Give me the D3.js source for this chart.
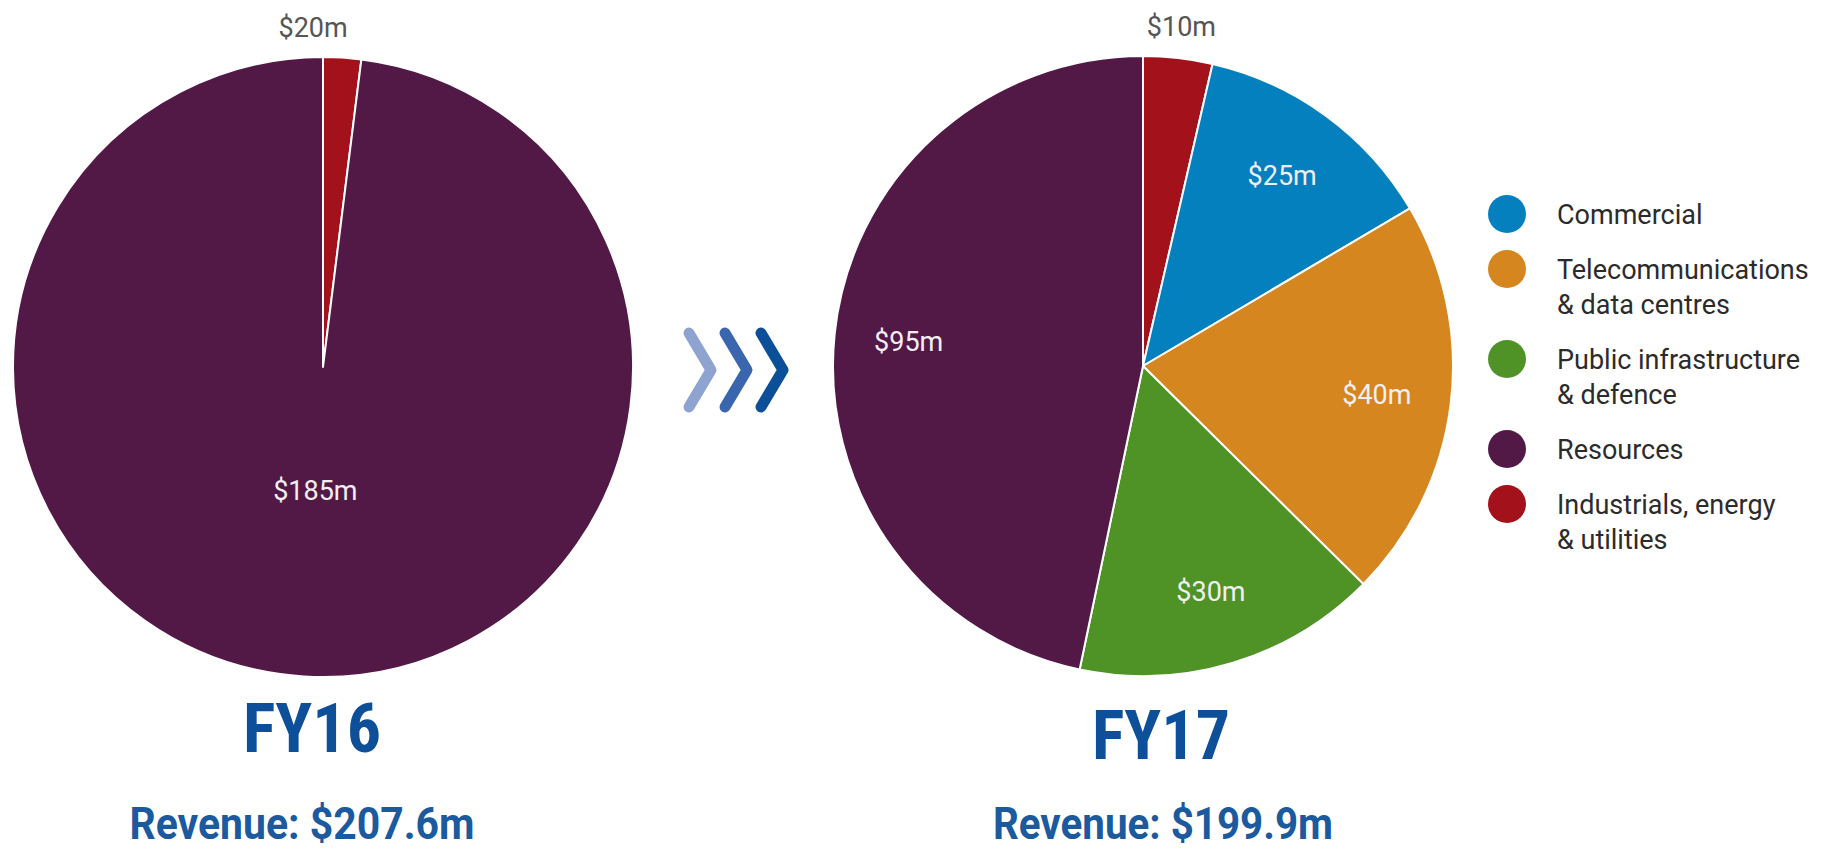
<!DOCTYPE html>
<html>
<head>
<meta charset="utf-8">
<script src="https://cdn.jsdelivr.net/npm/d3@7"></script>
<style>
  body { margin: 0; background: #fff; }
  svg { display: block; }
</style>
</head>
<body>
<div id="chart"></div>
<script>
var w = 1827;
var h = 850;

// Segments and colours
var segments = ["Commercial", "Telecommunications & data centres", "Public infrastructure & defence", "Resources", "Industrials, energy & utilities"];
var segmentColors = ["#0580bf", "#d6861e", "#4f9226", "#521946", "#a3121a"];

// Slices clockwise from 12 o'clock. Values are the slice sizes as drawn ($m),
// labels are the printed figures.
var fy16Segments = ["Industrials, energy & utilities", "Resources"];
var fy16Values = [4.1, 203.5];
var fy16Labels = ["$20m", "$185m"];

var fy17Segments = ["Industrials, energy & utilities", "Commercial", "Telecommunications & data centres", "Public infrastructure & defence", "Resources"];
var fy17Values = [7.2, 25.8, 41.8, 31.7, 93.4];
var fy17Labels = ["$10m", "$25m", "$40m", "$30m", "$95m"];

var years = ["FY16", "FY17"];
var revenues = ["Revenue: $207.6m", "Revenue: $199.9m"];

// Legend text, one entry per line
var legendLines = [["Commercial"], ["Telecommunications", "& data centres"], ["Public infrastructure", "& defence"], ["Resources"], ["Industrials, energy", "& utilities"]];

var color = d3.scaleOrdinal().domain(segments).range(segmentColors);

var svg = d3
  .select("#chart")
  .append("svg")
  .attr("width", w)
  .attr("height", h);

var radius = 310;

// layout of the two panels
var panels = [
  { segs: fy16Segments, values: fy16Values, labels: fy16Labels, cx: 323, cy: 367, labelR: 0.4, outsideDx: -31,
    titleX: 312, titleY: 752, revX: 302, revY: 839, revW: 345 },
  { segs: fy17Segments, values: fy17Values, labels: fy17Labels, cx: 1143, cy: 366, labelR: 0.76, outsideDx: 0,
    titleX: 1161, titleY: 759, revX: 1163, revY: 839, revW: 340 }
];

var pie = d3.pie().sort(null).value(function (d) { return d.value; });
var arc = d3.arc().innerRadius(0).outerRadius(radius);

panels.forEach(function (p, pi) {
  var rows = p.values.map(function (v, i) {
    return { seg: p.segs[i], value: v, label: p.labels[i] };
  });
  var arcs = pie(rows);
  var g = svg.append("g").attr("transform", "translate(" + p.cx + "," + p.cy + ")");

  g.selectAll("path")
    .data(arcs)
    .enter()
    .append("path")
    .attr("d", arc)
    .attr("fill", function (d) { return color(d.data.seg); })
    .attr("stroke", "#fff")
    .attr("stroke-width", 2)
    .attr("stroke-linejoin", "round");

  var labelArc = d3.arc().innerRadius(radius * p.labelR).outerRadius(radius * p.labelR);
  var outerArc = d3.arc().innerRadius(radius + 30).outerRadius(radius + 30);

  g.selectAll("text.val")
    .data(arcs)
    .enter()
    .append("text")
    .attr("class", "val")
    .attr("font-family", "Roboto, sans-serif")
    .attr("font-size", 27)
    .attr("text-anchor", "middle")
    .each(function (d) {
      var small = d.endAngle - d.startAngle < 0.4;
      var t = d3.select(this);
      if (small) {
        // thin slice: figure sits above the pie
        var c = outerArc.centroid(d);
        t.attr("x", c[0] + p.outsideDx).attr("y", -radius - 20).attr("fill", "#555");
      } else {
        var c2 = labelArc.centroid(d);
        t.attr("x", c2[0]).attr("y", c2[1]).attr("dy", "0.35em").attr("fill", "#f2eef2");
      }
    })
    .text(function (d) { return d.data.label; });

  svg.append("text")
    .attr("x", p.titleX)
    .attr("y", p.titleY)
    .attr("text-anchor", "middle")
    .attr("font-family", "'Liberation Sans Narrow', 'Roboto Condensed', Roboto, sans-serif")
    .attr("font-weight", "bold")
    .attr("font-size", 68)
    .attr("fill", "#0d4f98")
    .text(years[pi]);

  svg.append("text")
    .attr("x", p.revX)
    .attr("y", p.revY)
    .attr("text-anchor", "middle")
    .attr("font-family", "Roboto, sans-serif")
    .attr("font-weight", "bold")
    .attr("font-size", 45)
    .attr("textLength", p.revW)
    .attr("lengthAdjust", "spacingAndGlyphs")
    .attr("fill", "#1b5a9e")
    .text(revenues[pi]);
});

// Chevrons between the pies
var chevronColors = ["#8fa3d1", "#3a66ad", "#0b4f98"];
var chevronX = d3.scalePoint().domain(d3.range(3)).range([689, 761]);
var chevron = d3.line();
svg.selectAll("path.chev")
  .data(chevronColors)
  .enter()
  .append("path")
  .attr("class", "chev")
  .attr("transform", function (d, i) { return "translate(" + chevronX(i) + ",370)"; })
  .attr("d", chevron([[0, -37], [22, 0], [0, 37]]))
  .attr("fill", "none")
  .attr("stroke", function (d) { return d; })
  .attr("stroke-width", 11)
  .attr("stroke-linecap", "round")
  .attr("stroke-linejoin", "round");

// Legend
var legendX = 1507;
var lineH = 35;
var legendY = [];
var y0 = 214;
legendLines.forEach(function (lines) {
  legendY.push(y0);
  y0 += 55 + lineH * (lines.length - 1);
});

var legend = svg.selectAll("g.legend")
  .data(segments)
  .enter()
  .append("g")
  .attr("class", "legend")
  .attr("transform", function (d, i) { return "translate(" + legendX + "," + legendY[i] + ")"; });

legend.append("circle")
  .attr("r", 19)
  .attr("fill", function (d) { return color(d); });

legend.append("text")
  .attr("font-family", "Roboto, sans-serif")
  .attr("font-size", 27)
  .attr("fill", "#2b2b2b")
  .selectAll("tspan")
  .data(function (d, i) { return legendLines[i]; })
  .enter()
  .append("tspan")
  .attr("x", 50)
  .attr("y", function (d, j) { return 10 + j * lineH; })
  .text(function (d) { return d; });
</script>
</body>
</html>
